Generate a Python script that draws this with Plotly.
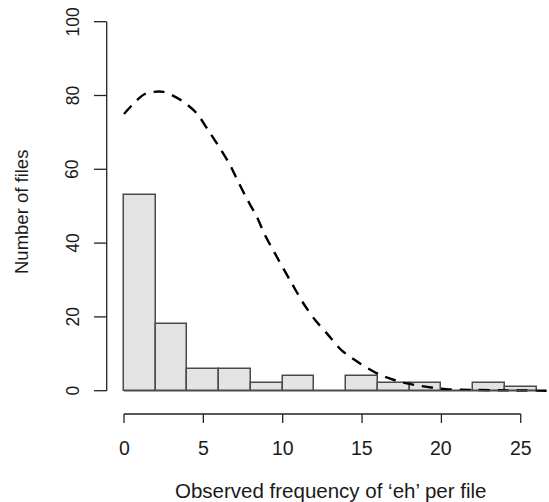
import plotly.graph_objects as go

# ---------------- data ----------------
bin_edges = [0, 2, 4, 6, 8, 10, 12, 14, 16, 18, 20, 22, 24, 26]
counts = [53, 18, 6, 6, 2, 4, 0, 4, 2, 2, 0, 2, 1]

curve_x = [0, 1.32, 2.48, 3.63, 4.58, 5.3, 6.05, 6.68, 7.2, 7.73, 8.36, 8.88, 9.51,
           10.57, 11.3, 12.03, 12.77, 13.7, 14.87, 16.13, 17.4, 18.65, 20.3, 22, 24, 26.8]
curve_y = [75, 80.4, 81, 78.6, 75.2, 70.6, 65.7, 61.2, 56.6, 52.1, 47.2, 42.2, 37.2,
           29.1, 23.7, 19.2, 15.6, 11.0, 7.4, 4.3, 2.4, 1.3, 0.4, 0.2, 0.1, 0.0]

x_ticks = [0, 5, 10, 15, 20, 25]
y_ticks = [0, 20, 40, 60, 80, 100]
x_title = "Observed frequency of \u2018eh\u2019 per file"
y_title = "Number of files"

# ---------------- layout geometry (pixel -> data mapping) ----------------
W, H = 549, 502
PX0, PXU = 124.0, 15.87      # pixel of x=0, pixels per x unit
PY0, PYU = 390.7, 3.69       # pixel of y=0, pixels per y unit


def X(px):
    return (px - PX0) / PXU


def Y(py):
    return (PY0 - py) / PYU


AX_COL = "#222222"
TXT_COL = "#1a1a1a"
BAR_LINE = "#4a4a4a"
FONT = "Liberation Sans, Arial, sans-serif"

centers = [(a + b) / 2 for a, b in zip(bin_edges[:-1], bin_edges[1:])]
widths = [b - a for a, b in zip(bin_edges[:-1], bin_edges[1:])]

fig = go.Figure()
fig.add_trace(go.Bar(
    x=centers, y=counts, width=widths,
    marker=dict(color="#e3e3e3", line=dict(color=BAR_LINE, width=1.5)),
    hoverinfo="x+y", showlegend=False,
))

shapes = []
annotations = []

# baseline of histogram (empty bins are drawn as flat rectangles in R)
shapes.append(dict(type="line", xref="x", yref="y", x0=bin_edges[0], x1=bin_edges[-1],
                   y0=0, y1=0, line=dict(color=BAR_LINE, width=1.5), layer="above"))

fig.add_trace(go.Scatter(
    x=curve_x, y=curve_y, mode="lines",
    line=dict(color="black", width=2.4, dash="11px,8px", shape="spline", smoothing=0.8),
    showlegend=False, hoverinfo="skip",
))

# x axis (R style, offset below the plot)
xa_y = Y(414)
xt_y = Y(423)
shapes.append(dict(type="line", xref="x", yref="y", x0=min(x_ticks), x1=max(x_ticks),
                   y0=xa_y, y1=xa_y, line=dict(color=AX_COL, width=1.3)))
for t in x_ticks:
    shapes.append(dict(type="line", xref="x", yref="y", x0=t, x1=t, y0=xa_y, y1=xt_y,
                       line=dict(color=AX_COL, width=1.3)))
    annotations.append(dict(x=t, y=Y(448), xref="x", yref="y", text=str(t), showarrow=False,
                            xanchor="center", yanchor="middle",
                            font=dict(family=FONT, size=19.5, color=TXT_COL)))

# y axis (R style, offset left of the plot)
ya_x = X(106.7)
yt_x = X(94)
shapes.append(dict(type="line", xref="x", yref="y", x0=ya_x, x1=ya_x,
                   y0=min(y_ticks), y1=max(y_ticks), line=dict(color=AX_COL, width=1.3)))
for t in y_ticks:
    shapes.append(dict(type="line", xref="x", yref="y", x0=ya_x, x1=yt_x, y0=t, y1=t,
                       line=dict(color=AX_COL, width=1.3)))
    annotations.append(dict(x=X(72.7), y=t, xref="x", yref="y", text=str(t), showarrow=False,
                            xanchor="center", yanchor="middle", textangle=-90,
                            font=dict(family=FONT, size=17.5, color=TXT_COL)))

# titles
annotations.append(dict(x=X(330), y=Y(490), xref="x", yref="y", text=x_title, showarrow=False,
                        xanchor="center", yanchor="middle",
                        font=dict(family=FONT, size=20.5, color=TXT_COL)))
annotations.append(dict(x=X(21), y=Y(212), xref="x", yref="y", text=y_title, showarrow=False,
                        xanchor="center", yanchor="middle", textangle=-90,
                        font=dict(family=FONT, size=18.5, color=TXT_COL)))

fig.update_layout(
    width=W, height=H,
    margin=dict(l=0, r=0, t=0, b=0),
    paper_bgcolor="white", plot_bgcolor="white",
    bargap=0,
    xaxis=dict(range=[X(0), X(W)], visible=False, fixedrange=True),
    yaxis=dict(range=[Y(H), Y(0)], visible=False, fixedrange=True),
    shapes=shapes, annotations=annotations,
)

fig.write_html("out.html")
